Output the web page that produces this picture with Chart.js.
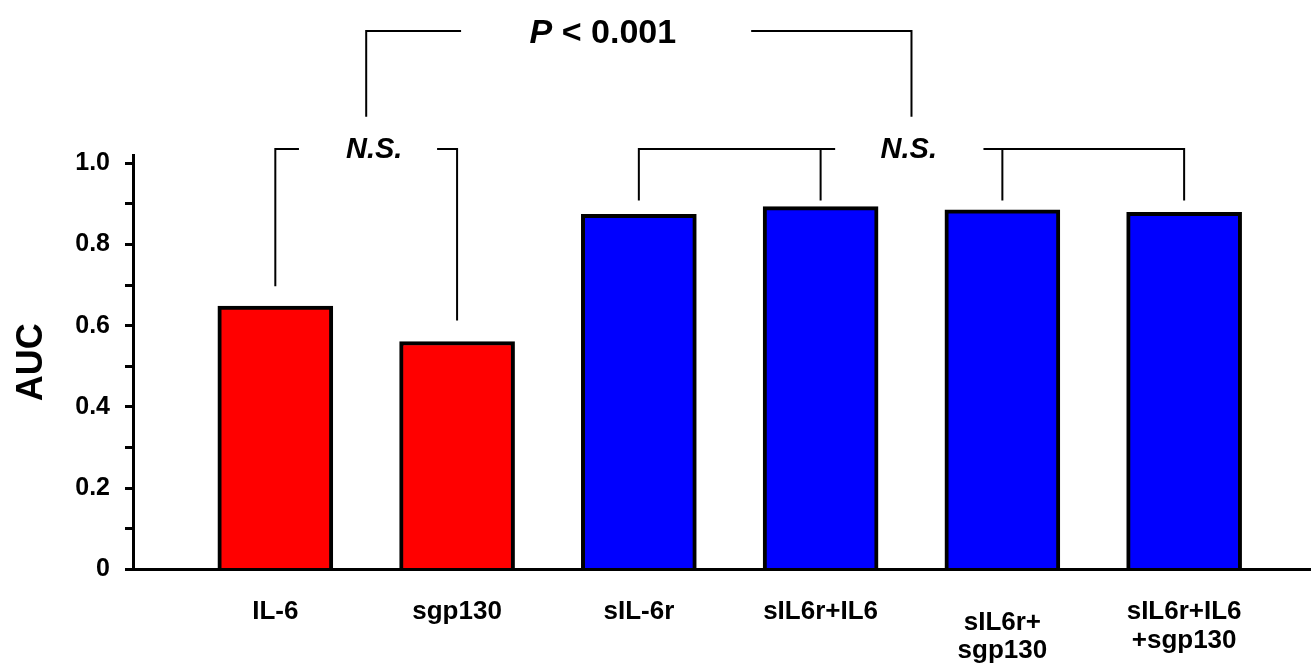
<!DOCTYPE html>
<html>
<head>
<meta charset="utf-8">
<script src="https://cdn.jsdelivr.net/npm/chart.js@4.4.0/dist/chart.umd.min.js"></script>
<style>
  html, body { margin: 0; padding: 0; background: #fff; }
  #wrap { width: 1311px; height: 665px; }
</style>
</head>
<body>
<div id="wrap"><canvas id="c" width="1311" height="665"></canvas></div>
<script>
// Treatment groups and their AUC values
const categories = ['IL-6', 'sgp130', 'sIL-6r', 'sIL6r+IL6', ['sIL6r+', 'sgp130'], ['sIL6r+IL6', '+sgp130']];
const aucValues = [0.648, 0.561, 0.874, 0.893, 0.885, 0.879];
const yTickLabels = ['0', '', '0.2', '', '0.4', '', '0.6', '', '0.8', '', '1.0'];
const yTitle = 'AUC';
// the one category label that sits lower, on its own axis row
const lowLabelIndex = 4;

// Significance brackets: leg positions (category index) and heights (AUC units)
const nsSingle   = { text: 'N.S.', legs: [0, 1], legEnds: [0.697, 0.613], level: 1.035 };
const nsReceptor = { text: 'N.S.', legs: [2, 3, 4, 5], legEnds: [0.908, 0.908, 0.908, 0.908], level: 1.035 };
const pOverall   = { italic: 'P', rest: ' < 0.001', legs: [0.5, 3.5], legEnds: [1.114, 1.114], level: 1.326 };

const FONT = "'Liberation Sans', Arial, Helvetica, sans-serif";
Chart.defaults.font.family = FONT;
Chart.defaults.color = '#000';

const X_MIN = -0.783, X_MAX = 5.698;

const bracketPlugin = {
  id: 'brackets',
  afterDraw(chart) {
    const ctx = chart.ctx, xs = chart.scales.x, ys = chart.scales.y;
    ctx.save();
    ctx.strokeStyle = '#000';
    ctx.lineWidth = 2;
    ctx.lineCap = 'butt';
    ctx.lineJoin = 'miter';
    ctx.fillStyle = '#000';

    // b: bracket, gap: [start, end] fraction of span left open for the label, tf: label centre fraction
    function bracket(b, gap, tf, drawText) {
      const px = b.legs.map(v => xs.getPixelForValue(v));
      const yl = Math.round(ys.getPixelForValue(b.level));
      const x0 = px[0], x1 = px[px.length - 1], span = x1 - x0;
      const gA = x0 + gap[0] * span, gB = x0 + gap[1] * span;
      ctx.beginPath();
      ctx.moveTo(x0, ys.getPixelForValue(b.legEnds[0]));
      ctx.lineTo(x0, yl);
      ctx.lineTo(gA, yl);
      ctx.moveTo(gB, yl);
      ctx.lineTo(x1, yl);
      ctx.lineTo(x1, ys.getPixelForValue(b.legEnds[b.legEnds.length - 1]));
      for (let k = 1; k < px.length - 1; k++) {
        ctx.moveTo(px[k], yl);
        ctx.lineTo(px[k], ys.getPixelForValue(b.legEnds[k]));
      }
      ctx.stroke();
      drawText(x0 + tf * span, yl);
    }

    function nsText(cx, yl) {
      ctx.font = 'italic bold 29px ' + FONT;
      ctx.textAlign = 'center';
      ctx.textBaseline = 'alphabetic';
      ctx.fillText(nsSingle.text, cx, yl + 9);
    }

    bracket(nsSingle, [0.13, 0.89], 0.544, nsText);
    bracket(nsReceptor, [0.36, 0.632], 0.495, nsText);
    bracket(pOverall, [0.174, 0.706], 0.434, (cx, yl) => {
      const fi = 'italic bold 34px ' + FONT, fb = 'bold 34px ' + FONT;
      ctx.font = fi; const w1 = ctx.measureText(pOverall.italic).width;
      ctx.font = fb; const w2 = ctx.measureText(pOverall.rest).width;
      const left = cx - (w1 + w2) / 2;
      ctx.textAlign = 'left';
      ctx.textBaseline = 'alphabetic';
      ctx.font = fi; ctx.fillText(pOverall.italic, left, yl + 12);
      ctx.font = fb; ctx.fillText(pOverall.rest, left + w1, yl + 12);
    });
    ctx.restore();
  }
};

new Chart(document.getElementById('c'), {
  type: 'bar',
  data: {
    datasets: [{
      xAxisID: 'x',
      yAxisID: 'y',
      data: aucValues.map((v, i) => ({ x: i, y: v })),
      backgroundColor: c => (c.dataIndex < 2 ? '#ff0000' : '#0000ff'),
      borderColor: '#000',
      borderWidth: 4,
      borderSkipped: 'start',
      barThickness: 115
    }]
  },
  options: {
    responsive: false,
    animation: false,
    events: [],
    layout: { padding: { top: 155, left: 0, right: 0, bottom: 0 } },
    plugins: { legend: { display: false }, tooltip: { enabled: false } },
    scales: {
      x: {
        type: 'linear',
        position: 'bottom',
        weight: 0,
        min: X_MIN,
        max: X_MAX,
        offset: false,
        grid: { display: false },
        border: { display: true, width: 3, color: '#000' },
        afterBuildTicks: s => { s.ticks = categories.map((_, i) => ({ value: i })); },
        ticks: {
          autoSkip: false,
          maxRotation: 0,
          padding: 20,
          font: { size: 26, weight: 'bold', lineHeight: 1.115 },
          callback: v => (v === lowLabelIndex ? '' : categories[v])
        },
        afterFit: s => { s.height = 95.5; }
      },
      // zero-height row at the bottom edge; its label is drawn upward from there
      xLow: {
        type: 'linear',
        position: 'bottom',
        weight: 1,
        min: X_MIN,
        max: X_MAX,
        offset: false,
        grid: { display: false },
        border: { display: false },
        afterBuildTicks: s => { s.ticks = [{ value: lowLabelIndex }]; },
        ticks: {
          autoSkip: false,
          maxRotation: 0,
          mirror: true,
          padding: 28,
          font: { size: 26, weight: 'bold', lineHeight: 1.077 },
          callback: v => categories[v]
        },
        afterFit: s => { s.height = 0; }
      },
      y: {
        min: 0,
        max: 1.02,
        ticks: {
          stepSize: 0.1,
          includeBounds: false,
          padding: 15,
          font: { size: 25, weight: 'bold' },
          callback: v => { const l = yTickLabels[Math.round(v * 10)]; return l === undefined ? '' : l; }
        },
        grid: { drawOnChartArea: false, drawTicks: true, tickLength: 8, tickWidth: 3, tickColor: '#000', lineWidth: 3, color: '#000' },
        border: { display: true, width: 3, color: '#000' },
        title: { display: true, text: yTitle, font: { size: 36, weight: 'bold' }, padding: { top: 10, bottom: 0 } },
        afterFit: s => { s.width = 133; }
      }
    }
  },
  plugins: [bracketPlugin]
});
</script>
</body>
</html>
